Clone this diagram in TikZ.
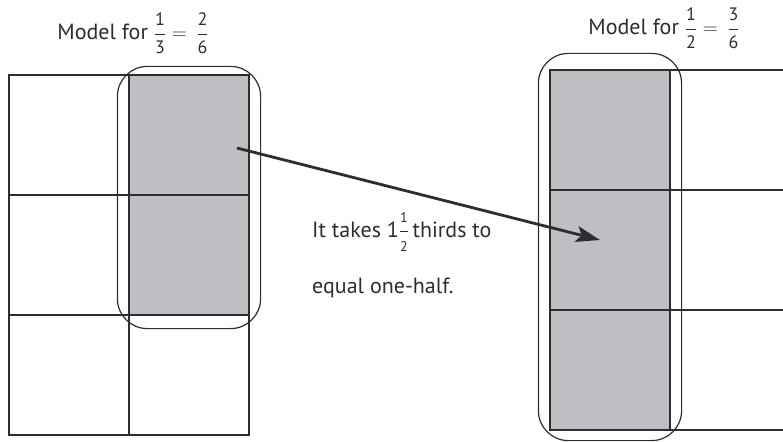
\documentclass[tikz,border=0pt]{standalone}
\usepackage{amsmath}
\usepackage{fontspec}
\setmainfont{PT Sans}
\usetikzlibrary{arrows.meta,fit,positioning}
\definecolor{fracgray}{RGB}{190,191,195}
\definecolor{inkgray}{RGB}{45,45,45}
\newcommand{\bigfr}[2]{\ensuremath{\dfrac{\text{\fontsize{18}{18}\selectfont #1}}{\text{\fontsize{18}{18}\selectfont #2}}}}
\newcommand{\smallfr}[2]{\ensuremath{\dfrac{\text{\fontsize{14}{14}\selectfont #1}}{\text{\fontsize{14}{14}\selectfont #2}}}}

\begin{document}
\begin{tikzpicture}[x=1pt,y=-1pt,font=\fontsize{22}{26}\selectfont,
    cell/.style={draw=inkgray,line width=1.2pt,minimum size=120pt,inner sep=0pt},
    shade/.style={cell,fill=fracgray},
    frame/.style={draw=inkgray,line width=1.2pt,rounded corners=30pt,inner xsep=11pt},
    every node/.style={text=inkgray}]
    \useasboundingbox (0,0) rectangle (783,441);
    % left model: thirds cut into sixths
    \foreach \c in {0,1} \foreach \r in {0,1,2}
      \node[cell] (L\c\r) at (69+120*\c,135+120*\r) {};
    \node[shade] at (L10) {}; \node[shade] at (L11) {};
    \node[frame,fit=(L10)(L11),inner ysep=10.5pt,yshift=-2.5pt] (lframe) {};
    % right model: halves cut into sixths
    \foreach \c in {0,1} \foreach \r in {0,1,2}
      \node[cell] (R\c\r) at (610+120*\c,130+120*\r) {};
    \foreach \r in {0,1,2} \node[shade] at (R0\r) {};
    \node[frame,fit=(R00)(R02),inner ysep=13pt,yshift=3pt] (rframe) {};
    % titles
    \node (ltitle) at (133,33) {Model for \bigfr{1}{3} $=$ \,\bigfr{2}{6}};
    \node (rtitle) at (664,28) {Model for \bigfr{1}{2} $=$ \,\bigfr{3}{6}};
    % note
    \node[anchor=base west,inner sep=0pt] (note1) at (312,237) {It takes 1\smallfr{1}{2}\,thirds to};
    \node[anchor=base west,inner sep=0pt] (note2) at (312,293) {equal one-half.};
    % arrow
    \coordinate (from) at (237,148);
    \coordinate (to) at (600,240);
    \draw[inkgray,line width=2.8pt,-{Stealth[length=24pt,width=16pt,inset=5pt]}] (from) -- (to);
\end{tikzpicture}
\end{document}
